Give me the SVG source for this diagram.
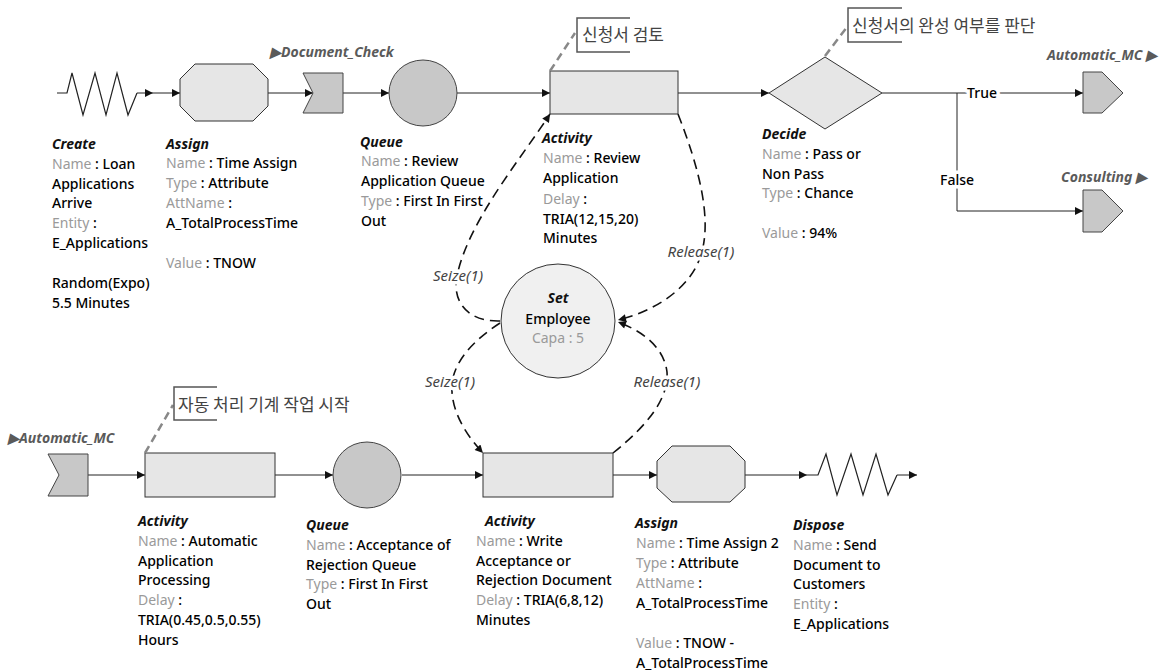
<svg xmlns="http://www.w3.org/2000/svg" width="1166" height="672" viewBox="0 0 1166 672">
<style>
text{font-family:"Noto Sans","Open Sans","Liberation Sans",sans-serif;font-size:14px;fill:#000;font-weight:500}
.h{font-weight:bold;font-style:italic;fill:#111}
.g{fill:#9a9a9a;font-weight:normal}
.lbl{font-style:italic;font-weight:bold;fill:#5a5a5a;font-size:14px}
.cl{font-style:italic;font-weight:normal;fill:#444;font-size:15px;paint-order:stroke;stroke:#fff;stroke-width:7px;stroke-linejoin:round}
.tf{paint-order:stroke;stroke:#fff;stroke-width:7px;stroke-linejoin:round}
.ko{font-family:"Noto Sans CJK KR","Noto Sans",sans-serif;font-size:17px;fill:#444;font-weight:normal}
.shp{fill:#e6e6e6;stroke:#333;stroke-width:1}
.dk{fill:#c8c8c8;stroke:#444;stroke-width:1}
.zz{fill:none;stroke:#222;stroke-width:1.2}
.ln{fill:none;stroke:#222;stroke-width:1;marker-end:url(#ah)}
.ds{fill:none;stroke:#111;stroke-width:1.6;stroke-dasharray:10 6;marker-end:url(#ah)}
.br{fill:none;stroke:#555;stroke-width:1.5}
.ld{fill:none;stroke:#888;stroke-width:2.5;stroke-dasharray:8 5}
</style>
<defs>
<marker id="ah" viewBox="0 0 10 10" refX="10" refY="5" markerWidth="11" markerHeight="8" orient="auto" markerUnits="userSpaceOnUse">
<path d="M0,0 L10,5 L0,10 z" fill="#111"/>
</marker>
</defs>
<rect width="1166" height="672" fill="#fff"/>

<g id="connectors">
<line class="ln" x1="153" y1="93" x2="180" y2="93"/>
<line class="ln" x1="268" y1="93" x2="313" y2="93"/>
<line class="ln" x1="343" y1="93" x2="389" y2="93"/>
<line class="ln" x1="457" y1="93" x2="550" y2="93"/>
<line class="ln" x1="678" y1="93" x2="769" y2="93"/>
<line class="ln" x1="882" y1="93" x2="1083" y2="93"/>
<polyline class="ln" points="957,93 957,211 1083,211"/>
<text class="tf" x="982" y="98" text-anchor="middle">True</text>
<text class="tf" x="957" y="185" text-anchor="middle">False</text>
<line class="ln" x1="88" y1="475" x2="145" y2="475"/>
<line class="ln" x1="275" y1="475" x2="333" y2="475"/>
<line class="ln" x1="402" y1="475" x2="483" y2="475"/>
<line class="ln" x1="613" y1="475" x2="657" y2="475"/>
<line class="ln" x1="745" y1="475" x2="807" y2="475"/>
<path class="ds" d="M500,321 C466,322 452,300 457,276 C468,222 520,160 550,114"/>
<path class="ds" d="M678,114 C700,170 712,220 701,255 C690,290 652,312 618,320"/>
<path class="ds" d="M500,323 C474,340 455,360 452,383 C450,410 466,435 483,453"/>
<path class="ds" d="M613,453 C648,425 669,398 667,372 C664,347 642,331 618,322"/>
<text class="cl" x="458" y="281" text-anchor="middle">Seize(1)</text>
<text class="cl" x="701" y="257" text-anchor="middle">Release(1)</text>
<text class="cl" x="450" y="387" text-anchor="middle">Seize(1)</text>
<text class="cl" x="667" y="387" text-anchor="middle">Release(1)</text>
</g>

<g id="create">
<polyline class="zz" points="57,93 67,93 72,73 83,115 95,73 106,115 117,73 128,115 137,93"/>
<line class="ln" x1="137" y1="93" x2="153" y2="93"/>
<text class="h" x="52" y="149">Create</text>
<text x="52" y="169"><tspan class="g">Name</tspan> : Loan</text>
<text x="52" y="189">Applications</text>
<text x="52" y="208">Arrive</text>
<text x="52" y="228"><tspan class="g">Entity</tspan> :</text>
<text x="52" y="248">E_Applications</text>
<text x="52" y="288">Random(Expo)</text>
<text x="52" y="308">5.5 Minutes</text>
</g>

<g id="assign1">
<polygon class="shp" points="195,64 253,64 268,79 268,106 253,121 195,121 180,106 180,79"/>
<text class="h" x="166" y="149">Assign</text>
<text x="166" y="168"><tspan class="g">Name</tspan> : Time Assign</text>
<text x="166" y="188"><tspan class="g">Type</tspan> : Attribute</text>
<text x="166" y="208"><tspan class="g">AttName</tspan> :</text>
<text x="166" y="228">A_TotalProcessTime</text>
<text x="166" y="268"><tspan class="g">Value</tspan> : TNOW</text>
</g>

<g id="station-document-check">
<polygon class="dk" points="303,73 343,73 343,113 303,113 313,93"/>
<text class="lbl" x="270" y="57">▶Document_Check</text>
</g>

<g id="queue1">
<ellipse class="dk" cx="423" cy="93" rx="34" ry="33"/>
<text class="h" x="360" y="147">Queue</text>
<text x="361" y="166"><tspan class="g">Name</tspan> : Review</text>
<text x="361" y="186">Application Queue</text>
<text x="361" y="206"><tspan class="g">Type</tspan> : First In First</text>
<text x="361" y="226">Out</text>
</g>

<g id="activity-review">
<rect class="shp" x="550" y="71" width="128" height="43"/>
<line class="ld" x1="550" y1="71" x2="575" y2="33"/>
<polyline class="br" points="630,18 577,18 577,52 630,52"/>
<text class="ko" x="582" y="41">신청서 검토</text>
<text class="h" x="542" y="143">Activity</text>
<text x="543" y="163"><tspan class="g">Name</tspan> : Review</text>
<text x="543" y="183">Application</text>
<text x="543" y="204"><tspan class="g">Delay</tspan> :</text>
<text x="543" y="224">TRIA(12,15,20)</text>
<text x="543" y="243">Minutes</text>
</g>

<g id="decide">
<polygon class="shp" points="769,93 825,57 882,93 825,129"/>
<line class="ld" x1="825" y1="56" x2="847" y2="27"/>
<polyline class="br" points="902,8 848,8 848,42 902,42"/>
<text class="ko" x="852" y="32">신청서의 완성 여부를 판단</text>
<text class="h" x="762" y="139">Decide</text>
<text x="762" y="159"><tspan class="g">Name</tspan> : Pass or</text>
<text x="762" y="179">Non Pass</text>
<text x="762" y="198"><tspan class="g">Type</tspan> : Chance</text>
<text x="762" y="238"><tspan class="g">Value</tspan> : 94%</text>
</g>

<g id="route-automatic-mc">
<polygon class="dk" points="1083,72 1102,72 1123,93 1102,113 1083,113"/>
<text class="lbl" x="1157" y="60" text-anchor="end">Automatic_MC ▶</text>
</g>

<g id="route-consulting">
<polygon class="dk" points="1083,190 1102,190 1123,211 1102,232 1083,232"/>
<text class="lbl" x="1147" y="182" text-anchor="end">Consulting ▶</text>
</g>

<g id="resource-set">
<circle cx="558" cy="321" r="57" fill="#f0f0f0" stroke="#333" stroke-width="1"/>
<text class="h" x="558" y="303" text-anchor="middle">Set</text>
<text x="558" y="324" text-anchor="middle">Employee</text>
<text class="g" x="558" y="343" text-anchor="middle">Capa : 5</text>
</g>

<g id="station-automatic-mc">
<polygon class="dk" points="48,454 88,454 88,496 48,496 59,475"/>
<text class="lbl" x="8" y="443">▶Automatic_MC</text>
</g>

<g id="activity-automatic">
<rect class="shp" x="145" y="453" width="130" height="44"/>
<line class="ld" x1="145" y1="453" x2="173" y2="405"/>
<polyline class="br" points="217,387 174,387 174,420 217,420"/>
<text class="ko" x="178" y="411">자동 처리 기계 작업 시작</text>
<text class="h" x="138" y="526">Activity</text>
<text x="138" y="546"><tspan class="g">Name</tspan> : Automatic</text>
<text x="138" y="566">Application</text>
<text x="138" y="585">Processing</text>
<text x="138" y="605"><tspan class="g">Delay</tspan> :</text>
<text x="138" y="625">TRIA(0.45,0.5,0.55)</text>
<text x="138" y="645">Hours</text>
</g>

<g id="queue2">
<ellipse class="dk" cx="367" cy="475" rx="34" ry="33"/>
<text class="h" x="306" y="530">Queue</text>
<text x="306" y="550"><tspan class="g">Name</tspan> : Acceptance of</text>
<text x="306" y="570">Rejection Queue</text>
<text x="306" y="589"><tspan class="g">Type</tspan> : First In First</text>
<text x="306" y="609">Out</text>
</g>

<g id="activity-write">
<rect class="shp" x="483" y="453" width="130" height="44"/>
<text class="h" x="485" y="526">Activity</text>
<text x="476" y="546"><tspan class="g">Name</tspan> : Write</text>
<text x="476" y="566">Acceptance or</text>
<text x="476" y="585">Rejection Document</text>
<text x="476" y="605"><tspan class="g">Delay</tspan> : TRIA(6,8,12)</text>
<text x="476" y="625">Minutes</text>
</g>

<g id="assign2">
<polygon class="shp" points="672,446 730,446 745,461 745,488 730,502 672,502 657,488 657,461"/>
<text class="h" x="635" y="528">Assign</text>
<text x="636" y="548"><tspan class="g">Name</tspan> : Time Assign 2</text>
<text x="636" y="568"><tspan class="g">Type</tspan> : Attribute</text>
<text x="636" y="588"><tspan class="g">AttName</tspan> :</text>
<text x="636" y="608">A_TotalProcessTime</text>
<text x="636" y="648"><tspan class="g">Value</tspan> : TNOW -</text>
<text x="636" y="668">A_TotalProcessTime</text>
</g>

<g id="dispose">
<polyline class="zz" points="807,475 818,475 826,454 837,495 851,454 863,495 876,454 888,495 897,475"/>
<line class="ln" x1="897" y1="475" x2="917" y2="475"/>
<text class="h" x="793" y="530">Dispose</text>
<text x="793" y="550"><tspan class="g">Name</tspan> : Send</text>
<text x="793" y="570">Document to</text>
<text x="793" y="589">Customers</text>
<text x="793" y="609"><tspan class="g">Entity</tspan> :</text>
<text x="793" y="629">E_Applications</text>
</g>
</svg>
